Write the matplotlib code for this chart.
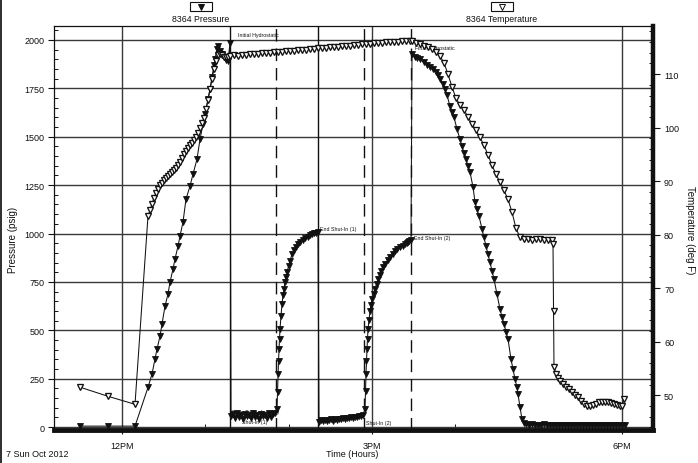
import matplotlib
matplotlib.use('Agg')
import matplotlib.pyplot as plt
from matplotlib.lines import Line2D
from matplotlib.patches import Rectangle
from matplotlib.ticker import MultipleLocator, FixedLocator

plt.rcParams['font.family'] = ['Liberation Sans', 'DejaVu Sans']

# ---------------- data (time in hours of day, 7 Sun Oct 2012) ----------------
# Pressure (psig), gauge 8364, read segment by segment
p_run_in_t = [11.496, 11.832, 12.156,
              12.312, 12.36, 12.396, 12.42, 12.456, 12.48, 12.516, 12.552, 12.576, 12.612,
              12.636, 12.672, 12.696, 12.732, 12.768, 12.816, 12.852, 12.9, 12.936, 12.972,
              12.996, 13.032, 13.056, 13.08, 13.104, 13.116, 13.14, 13.152, 13.176, 13.2,
              13.224, 13.248, 13.272, 13.296]
p_run_in_v = [5, 5, 5,
              205, 274, 351, 403, 470, 532, 625, 687, 749, 816,
              868, 935, 987, 1059, 1178, 1245, 1307, 1384, 1487, 1565,
              1617, 1694, 1746, 1808, 1870, 1901, 1955, 1968, 1942, 1925,
              1911, 1898, 1890, 1985]
p_flow1_t = [13.308, 13.332, 13.356, 13.38, 13.404, 13.428, 13.452, 13.476, 13.5, 13.524,
             13.548, 13.572, 13.596, 13.62, 13.644, 13.668, 13.692, 13.716, 13.74, 13.764,
             13.788, 13.812, 13.836]
p_flow1_v = [58, 66, 45, 72, 50, 61, 42, 70, 55, 64, 47, 73, 52, 60, 44, 68, 57, 63, 48, 71,
             53, 66, 74]
p_bu1_t = [13.86, 13.866, 13.872, 13.878, 13.884, 13.89, 13.896, 13.908, 13.92, 13.932,
           13.944, 13.956, 13.968, 13.98, 13.998, 14.016, 14.04, 14.064, 14.088, 14.112,
           14.136, 14.166, 14.196, 14.226, 14.256, 14.28, 14.304, 14.328, 14.352]
p_bu1_v = [93, 180, 274, 340, 403, 455, 506, 575, 635, 680, 713, 748, 775, 800, 830, 857,
           894, 915, 930, 944, 956, 966, 976, 984, 992, 997, 1002, 1004, 1007]
p_flow2_t = [14.364, 14.388, 14.412, 14.436, 14.46, 14.484, 14.508, 14.532, 14.556, 14.58,
             14.604, 14.628, 14.652, 14.676, 14.7, 14.724, 14.748, 14.772, 14.796, 14.82,
             14.844, 14.868, 14.892]
p_flow2_v = [28, 35, 31, 38, 33, 36, 40, 34, 42, 38, 44, 40, 46, 43, 47, 45, 50, 48, 52, 50,
             55, 58, 64]
p_bu2_t = [14.916, 14.922, 14.928, 14.934, 14.94, 14.946, 14.952, 14.964, 14.976, 14.988,
           15.0, 15.018, 15.036, 15.054, 15.072, 15.09, 15.108, 15.132, 15.156, 15.186,
           15.216, 15.246, 15.276, 15.306, 15.336, 15.366, 15.396, 15.414, 15.432, 15.45,
           15.468]
p_bu2_v = [93, 185, 274, 340, 403, 455, 506, 555, 599, 632, 661, 690, 713, 740, 764, 786,
           806, 825, 842, 861, 878, 895, 909, 920, 930, 938, 945, 951, 956, 961, 966]
p_pull_t = [15.48, 15.516, 15.546, 15.576, 15.618, 15.66, 15.696, 15.732, 15.762, 15.792,
            15.822, 15.852, 15.876, 15.9, 15.936, 15.96, 15.984, 16.02, 16.056, 16.08,
            16.104, 16.128, 16.152, 16.176, 16.212, 16.236, 16.26, 16.284, 16.32, 16.344,
            16.368, 16.392, 16.416, 16.44, 16.464, 16.5, 16.536, 16.56, 16.584, 16.608,
            16.632, 16.668, 16.692, 16.716, 16.74, 16.752, 16.776, 16.8, 16.824]
p_pull_v = [1927, 1911, 1905, 1901, 1885, 1870, 1858, 1849, 1835, 1818, 1798, 1772, 1745,
            1715, 1658, 1630, 1601, 1539, 1488, 1451, 1418, 1384, 1350, 1317, 1240, 1162,
            1125, 1090, 1023, 980, 935, 893, 852, 808, 764, 687, 609, 570, 532, 493, 455,
            351, 300, 248, 205, 170, 103, 41, 20]
p_final_t = [16.848, 16.884, 16.92, 16.956, 16.992, 17.028, 17.064, 17.1, 17.136, 17.172,
             17.208, 17.244, 17.28, 17.316, 17.352, 17.388, 17.424, 17.46, 17.496, 17.532,
             17.568, 17.604, 17.64, 17.676, 17.712, 17.748, 17.784, 17.82, 17.856, 17.892,
             17.928, 17.964, 18.0, 18.036]
p_final_v = [15, 13, 14, 12, 13, 11, 14, 12, 13, 11, 12, 10, 13, 12, 11, 12, 10, 12, 11, 13,
             11, 10, 12, 11, 10, 12, 11, 10, 12, 11, 10, 11, 12, 13]

# Temperature (deg F), gauge 8364
t_run_in_t = [11.496, 11.832, 12.156,
              12.312, 12.336, 12.36, 12.384, 12.408, 12.432, 12.456, 12.48, 12.504, 12.528,
              12.552, 12.576, 12.6, 12.624, 12.648, 12.672, 12.696, 12.72, 12.744, 12.768,
              12.792, 12.816, 12.84, 12.864, 12.888, 12.912, 12.936, 12.96, 12.984, 13.008,
              13.032, 13.056, 13.08, 13.104, 13.128, 13.152, 13.176, 13.2, 13.224, 13.248,
              13.272]
t_run_in_v = [51.5, 49.8, 48.3,
              83.5, 84.6, 85.8, 86.9, 87.8, 88.6, 89.2, 89.7, 90.2, 90.6,
              91.0, 91.3, 91.7, 92.1, 92.5, 93.0, 93.6, 94.4, 95.1, 95.7,
              96.2, 96.7, 97.2, 97.7, 98.3, 99.0, 99.9, 100.8, 101.9, 103.4,
              105.2, 107.2, 109.1, 111.0, 112.5, 113.5, 113.8, 113.5, 113.2, 113.2,
              113.3]
t_test_t = [13.296, 13.344, 13.392, 13.44, 13.488, 13.536, 13.584, 13.632, 13.68, 13.728,
            13.776, 13.824, 13.872, 13.92, 13.968, 14.016, 14.064, 14.112, 14.16, 14.208,
            14.256, 14.304, 14.352, 14.4, 14.448, 14.496, 14.544, 14.592, 14.64, 14.688,
            14.736, 14.784, 14.832, 14.88, 14.928, 14.976, 15.024, 15.072, 15.12, 15.168,
            15.216, 15.264, 15.312, 15.36, 15.408, 15.456]
t_test_v = [113.4, 113.5, 113.4, 113.6, 113.6, 113.7, 113.7, 113.8, 113.9, 113.9,
            114.0, 114.1, 114.1, 114.2, 114.3, 114.3, 114.4, 114.5, 114.5, 114.6,
            114.7, 114.7, 114.8, 114.9, 114.9, 115.0, 115.1, 115.1, 115.2, 115.3,
            115.3, 115.4, 115.5, 115.6, 115.6, 115.7, 115.8, 115.8, 115.9, 116.0,
            116.0, 116.1, 116.1, 116.2, 116.2, 116.2]
t_pull_t = [15.48, 15.528, 15.576, 15.624, 15.672, 15.72, 15.768, 15.816, 15.864, 15.912,
            15.96, 16.008, 16.056, 16.104, 16.152, 16.2, 16.248, 16.296, 16.344, 16.392,
            16.44, 16.488, 16.536, 16.584, 16.632, 16.68, 16.728, 16.776, 16.824,
            16.872, 16.92, 16.968, 17.016, 17.064, 17.112, 17.16, 17.172]
t_pull_v = [116.2, 115.8, 115.6, 115.2, 115.0, 114.7, 114.1, 113.4, 112.1, 110.0,
            107.6, 105.5, 104.2, 103.3, 102.0, 100.7, 99.5, 98.2, 96.7, 94.9,
            93.0, 91.3, 89.8, 88.3, 86.6, 84.2, 81.2, 79.5, 79.2,
            79.2, 79.1, 79.2, 79.2, 79.1, 79.1, 79.0, 78.2]
t_surface_t = [17.178, 17.184, 17.208, 17.232, 17.256, 17.292, 17.328, 17.364, 17.4, 17.436,
               17.472, 17.508, 17.544, 17.58, 17.616, 17.652, 17.688, 17.724, 17.76, 17.796,
               17.832, 17.868, 17.904, 17.94, 17.976, 18.0, 18.024]
t_surface_v = [65.7, 55.2, 54.0, 53.2, 52.6, 52.1, 51.6, 51.1, 50.6, 50.1,
               49.6, 48.9, 48.3, 48.0, 47.9, 48.1, 48.4, 48.7, 48.8, 48.8,
               48.7, 48.6, 48.4, 48.1, 47.9, 48.0, 49.3]

press_time = p_run_in_t + p_flow1_t + p_bu1_t + p_flow2_t + p_bu2_t + p_pull_t + p_final_t
press_psi = p_run_in_v + p_flow1_v + p_bu1_v + p_flow2_v + p_bu2_v + p_pull_v + p_final_v
temp_time = t_run_in_t + t_test_t + t_pull_t + t_surface_t
temp_degF = t_run_in_v + t_test_v + t_pull_v + t_surface_v

x_ticks = [12, 15, 18]
x_tick_labels = ['12PM', '3PM', '6PM']
x_minor = [13, 14, 16, 17]

event_times = [13.296, 13.848, 14.352, 14.904, 15.468]
event_solid = [True, False, True, False, False]

event_labels = ['Initial Hydrostatic', 'Final Hydrostatic', 'End Shut-In (1)', 'End Shut-In (2)',
                'Open To Surface (1)', 'Shut-In (1)', 'Shut-In (2)']
event_label_time = [13.39, 15.52, 14.38, 15.5, 13.31, 13.44, 14.93]
event_label_psi = [2030, 1960, 1025, 980, 80, 30, 25]

# ---------------- figure ----------------
W, H = 698, 464
fig = plt.figure(figsize=(W / 100, H / 100), dpi=100)
ax = fig.add_axes([54 / W, 1 - 431 / H, (653 - 54) / W, (431 - 27) / H])
ax2 = ax.twinx()

ink = '#111111'
gridc = '#383838'

ax.set_xlim(11.184, 18.372)
ax.set_ylim(-15, 2072)
ax2.set_ylim(43.5, 119.0)

# grid
ax.set_yticks(range(0, 2001, 250))
ax.set_xticks(x_ticks)
ax.set_xticklabels(x_tick_labels)
ax.grid(True, color=gridc, lw=1.0, zorder=0)
ax.set_axisbelow(True)

# event lines
for t, solid in zip(event_times, event_solid):
    if solid:
        ax.axvline(t, color=ink, lw=1.0, zorder=1)
    else:
        ax.axvline(t, color=ink, lw=1.0, ls=(0, (9, 5)), zorder=1)

# data
ax.plot(press_time, press_psi, color=ink, lw=0.75, marker='v', ms=5,
        mfc=ink, mec=ink, mew=0.6, zorder=3)
ax2.plot(temp_time, temp_degF, color=ink, lw=0.75, marker='v', ms=5,
         mfc='white', mec=ink, mew=0.95, zorder=3)

for s, t, p in zip(event_labels, event_label_time, event_label_psi):
    ax.text(t, p, s, fontsize=3.8, color=ink, va='center', ha='left', zorder=4)

# ticks & spines
ax.yaxis.set_minor_locator(MultipleLocator(50))
ax.xaxis.set_minor_locator(FixedLocator(x_minor))
ax.tick_params(axis='y', which='major', direction='out', length=4, width=0.8,
               labelsize=6.5, pad=3, colors=ink)
ax.tick_params(axis='y', which='minor', direction='in', length=3, width=0.7, colors=ink)
ax.tick_params(axis='x', which='major', direction='out', length=3, width=0.8,
               labelsize=6.5, pad=5, colors=ink)
ax.tick_params(axis='x', which='minor', direction='in', length=4, width=0.7, colors=ink)

ax2.yaxis.set_major_locator(MultipleLocator(10))
ax2.yaxis.set_minor_locator(MultipleLocator(2))
ax2.tick_params(axis='y', which='major', direction='out', length=5, width=0.8,
                labelsize=6.5, pad=3, colors=ink)
ax2.tick_params(axis='y', which='minor', direction='in', length=3, width=0.7, colors=ink)

for sp in ['left', 'top']:
    ax.spines[sp].set_linewidth(0.9)
    ax.spines[sp].set_color(ink)
ax.spines['right'].set_visible(False)
ax.spines['bottom'].set_linewidth(3.5)
ax.spines['bottom'].set_color(ink)
for sp in ['left', 'top', 'bottom']:
    ax2.spines[sp].set_visible(False)
ax2.spines['right'].set_linewidth(3.2)
ax2.spines['right'].set_color(ink)

# axis titles
fig.text(13 / W, 1 - 240 / H, 'Pressure (psig)', rotation=90, ha='center', va='center',
         fontsize=7, color=ink)
fig.text(690 / W, 1 - 230 / H, 'Temperature (deg F)', rotation=270, ha='center', va='center',
         fontsize=7, color=ink)
fig.text(6 / W, 1 - 455 / H, '7 Sun Oct 2012', ha='left', va='center', fontsize=6.5, color=ink)
fig.text(352 / W, 1 - 455 / H, 'Time (Hours)', ha='center', va='center', fontsize=6.5, color=ink)

# legend boxes above the plot
for cx, label, face in [(201, '8364 Pressure', ink), (502, '8364 Temperature', 'white')]:
    fig.text(cx / W, 1 - 19 / H, label, ha='center', va='center', fontsize=6.3, color=ink)
    fig.add_artist(Rectangle(((cx - 11) / W, 1 - 12 / H), 22 / W, 9 / H,
                             transform=fig.transFigure, fill=False, ec=ink, lw=0.8))
    fig.add_artist(Line2D([cx / W], [1 - 7.5 / H], transform=fig.transFigure, marker='v',
                          ms=4, mfc=face, mec=ink, mew=0.7, ls='none'))

# scanned left border
fig.add_artist(Rectangle((0, 0), 2 / W, 1, transform=fig.transFigure, color='#333333', lw=0))

fig.savefig('out.png', dpi=100)
